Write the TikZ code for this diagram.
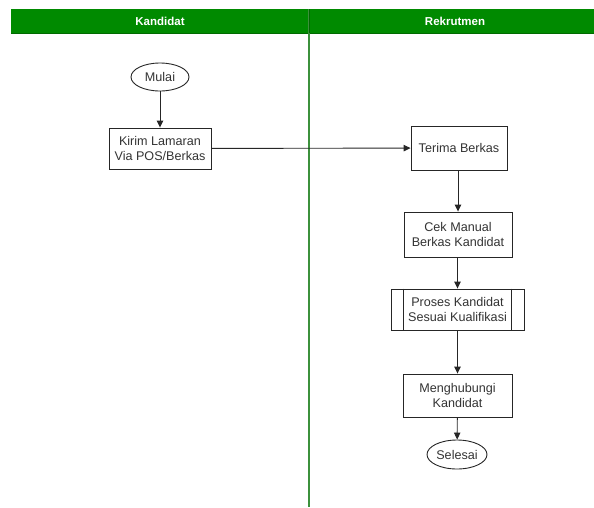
\documentclass[tikz,border=0pt]{standalone}
\usepackage{fontspec}
\setmainfont{Liberation Sans}
\usetikzlibrary{shapes.geometric,arrows.meta}
\definecolor{hdrgreen}{HTML}{008A00}
\definecolor{hdrdark}{HTML}{006A00}
\definecolor{lanegreen}{HTML}{3C913C}
\definecolor{txt}{HTML}{333333}
\begin{document}
\begin{tikzpicture}[x=1pt,y=-1pt,
  base/.style={draw=black!85,line width=0.9pt,text=txt,font=\fontsize{12.6}{14.5}\selectfont,align=center,inner sep=0pt},
  procbox/.style={base,rectangle},
  termnode/.style={base,ellipse},
  conn/.style={draw=black!85,line width=0.9pt,-{Triangle[length=7pt,width=6.5pt]}},
  hdrtext/.style={text=white,font=\bfseries\fontsize{11.5}{13}\selectfont}]
\useasboundingbox (0,0) rectangle (594,507);
% header
\path[fill=hdrgreen] (11,9) rectangle (594,33);
\draw[hdrdark,line width=0.6pt] (11,33) -- (594,33);
\node[hdrtext] (hk) at (160,21) {Kandidat};
\node[hdrtext] (hr) at (455,21) {Rekrutmen};
\draw[lanegreen,line width=1.6pt] (309,9) -- (309,507);
\draw[hdrdark,line width=1pt] (309,9) -- (309,33);
% nodes
\node[termnode,minimum width=58pt,minimum height=28pt] (mulai) at (160,77) {Mulai};
\node[procbox,minimum width=102pt,minimum height=41pt] (kirim) at (160,148.5) {Kirim Lamaran\\Via POS/Berkas};
\node[procbox,minimum width=96pt,minimum height=44pt] (terima) at (459,148) {Terima Berkas};
\node[procbox,minimum width=108pt,minimum height=45pt] (cek) at (458,234.5) {Cek Manual\\Berkas Kandidat};
\node[procbox,minimum width=133pt,minimum height=41pt] (proses) at (457.5,309.5) {Proses Kandidat\\Sesuai Kualifikasi};
\draw[draw=black!85,line width=0.9pt] ([xshift=13pt]proses.north west) -- ([xshift=13pt]proses.south west);
\draw[draw=black!85,line width=0.9pt] ([xshift=-13pt]proses.north east) -- ([xshift=-13pt]proses.south east);
\node[procbox,minimum width=109pt,minimum height=43pt] (hub) at (457.5,395.5) {Menghubungi\\Kandidat};
\node[termnode,minimum width=60pt,minimum height=29pt] (selesai) at (457,454.5) {Selesai};
% connectors
\draw[conn] (mulai) -- (kirim);
\draw[conn] (kirim) -- (terima);
\draw[conn] (terima.south -| cek.north) -- (cek.north);
\draw[conn] (cek.south -| proses.north) -- (proses.north);
\draw[conn] (proses) -- (hub);
\draw[conn] (hub) -- (selesai);
\end{tikzpicture}
\end{document}
